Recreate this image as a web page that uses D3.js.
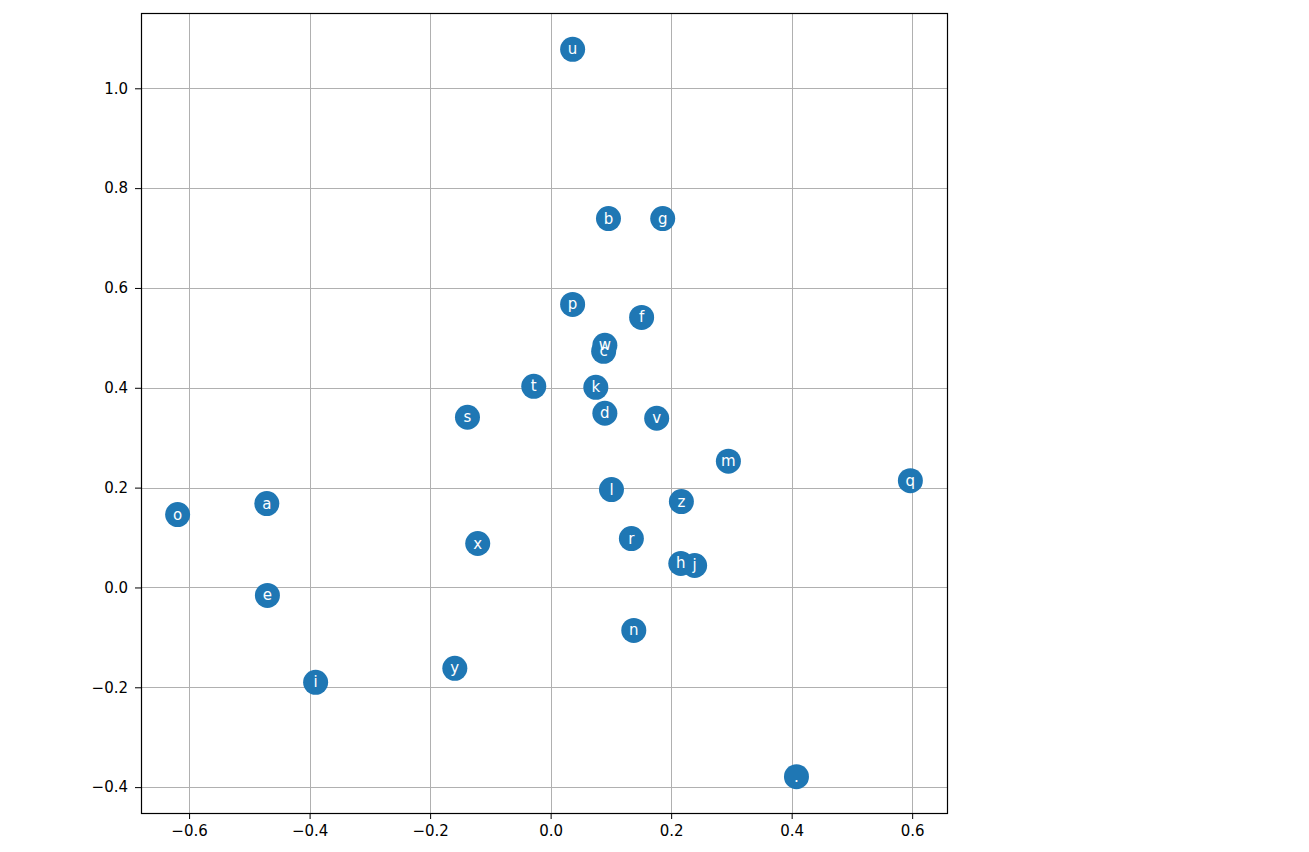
<!DOCTYPE html>
<html>
<head>
<meta charset="utf-8">
<script src="https://cdn.jsdelivr.net/npm/d3@7"></script>
<style>
  html, body { margin: 0; padding: 0; background: #fff; }
  svg { display: block; }
  text { font-family: "DejaVu Sans", sans-serif; }
</style>
</head>
<body>
<script>
// Labels (characters) and their 2-D embedding coordinates
const labels = [".", "a", "b", "c", "d", "e", "f", "g", "h", "i", "j", "k", "l", "m",
                "n", "o", "p", "q", "r", "s", "t", "u", "v", "w", "x", "y", "z"];
const xs = [0.408, -0.471, 0.096, 0.088, 0.090, -0.470, 0.151, 0.186, 0.216, -0.390, 0.239, 0.075, 0.101, 0.295,
            0.138, -0.619, 0.0365, 0.597, 0.134, -0.138, -0.028, 0.0365, 0.176, 0.090, -0.121, -0.159, 0.217];
const ys = [-0.379, 0.168, 0.739, 0.473, 0.349, -0.016, 0.541, 0.739, 0.048, -0.190, 0.044, 0.401, 0.196, 0.253,
            -0.086, 0.146, 0.567, 0.214, 0.098, 0.341, 0.403, 1.078, 0.339, 0.485, 0.088, -0.162, 0.172];
const xTicks = [-0.6, -0.4, -0.2, 0.0, 0.2, 0.4, 0.6];
const yTicks = [-0.4, -0.2, 0.0, 0.2, 0.4, 0.6, 0.8, 1.0];

const W = 1309, H = 852;
const plot = { left: 141, right: 947, top: 13, bottom: 813 };

function padded(arr) {
  const lo = d3.min(arr), hi = d3.max(arr), m = (hi - lo) * 0.05;
  return [lo - m, hi + m];
}

const x = d3.scaleLinear().domain(padded(xs)).range([plot.left, plot.right]);
const y = d3.scaleLinear().domain(padded(ys)).range([plot.bottom, plot.top]);

const svg = d3.select("body").append("svg").attr("width", W).attr("height", H);

// grid
const grid = svg.append("g").attr("stroke", "#b0b0b0").attr("stroke-width", 1);
grid.selectAll("line.gx").data(xTicks).join("line")
  .attr("x1", d => Math.round(x(d)) + 0.5).attr("x2", d => Math.round(x(d)) + 0.5)
  .attr("y1", plot.top).attr("y2", plot.bottom);
grid.selectAll("line.gy").data(yTicks).join("line")
  .attr("y1", d => Math.round(y(d)) + 0.5).attr("y2", d => Math.round(y(d)) + 0.5)
  .attr("x1", plot.left).attr("x2", plot.right);

// axes
const fmt = d => d3.format(".1f")(d).replace("-", "\u2212");
const xAxis = svg.append("g").attr("transform", `translate(0,${plot.bottom})`)
  .call(d3.axisBottom(x).tickValues(xTicks).tickFormat(fmt).tickSize(6).tickPadding(6));
const yAxis = svg.append("g").attr("transform", `translate(${plot.left},0)`)
  .call(d3.axisLeft(y).tickValues(yTicks).tickFormat(fmt).tickSize(6).tickPadding(7));
[xAxis, yAxis].forEach(g => {
  g.select(".domain").remove();
  g.selectAll(".tick line").attr("stroke", "#000");
  g.selectAll(".tick text").attr("fill", "#000").style("font-family", "DejaVu Sans")
    .style("font-size", "15px");
});

// points
const data = labels.map((l, i) => ({ l, x: xs[i], y: ys[i] }));
svg.append("g").selectAll("circle").data(data).join("circle")
  .attr("cx", d => x(d.x)).attr("cy", d => y(d.y)).attr("r", 12.5)
  .attr("fill", "#1f77b4");

svg.append("g").selectAll("text").data(data).join("text")
  .attr("x", d => x(d.x)).attr("y", d => y(d.y))
  .attr("text-anchor", "middle").attr("dominant-baseline", "central")
  .attr("fill", "#fff").style("font-size", "15px")
  .text(d => d.l);

// frame
svg.append("rect").attr("x", plot.left + 0.5).attr("y", plot.top + 0.5)
  .attr("width", plot.right - plot.left).attr("height", plot.bottom - plot.top)
  .attr("fill", "none").attr("stroke", "#000").attr("stroke-width", 1.2);
</script>
</body>
</html>
